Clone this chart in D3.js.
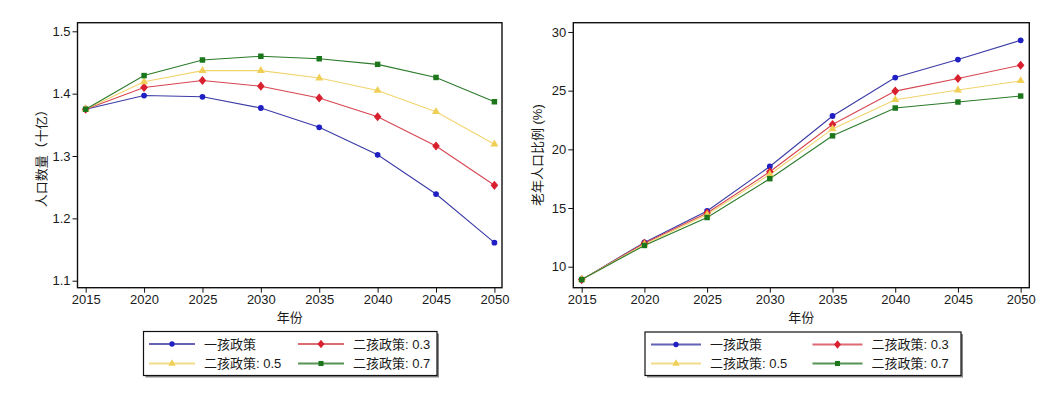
<!DOCTYPE html>
<html>
<head>
<meta charset="utf-8">
<script src="https://cdn.jsdelivr.net/npm/d3@7"></script>
<style>
  body { margin: 0; background: #fff; }
  text { font-family: "Liberation Sans", "Noto Sans CJK SC", sans-serif; fill: #1a1a1a; }
</style>
</head>
<body>
<svg id="chart" width="1064" height="398"></svg>
<script>
const years = [2015, 2020, 2025, 2030, 2035, 2040, 2045, 2050];
const seriesNames = ["一孩政策", "二孩政策: 0.3", "二孩政策: 0.5", "二孩政策: 0.7"];

// 人口数量（十亿）
const popOneChild = [1.375, 1.397, 1.395, 1.377, 1.346, 1.302, 1.239, 1.161];
const popTwo03 = [1.375, 1.410, 1.421, 1.412, 1.393, 1.363, 1.316, 1.253];
const popTwo05 = [1.375, 1.419, 1.437, 1.437, 1.425, 1.405, 1.371, 1.319];
const popTwo07 = [1.375, 1.429, 1.454, 1.460, 1.456, 1.447, 1.426, 1.387];

// 老年人口比例 (%)
const oldOneChild = [8.9, 12.07, 14.75, 18.54, 22.84, 26.12, 27.65, 29.29];
const oldTwo03 = [8.9, 12.0, 14.58, 18.09, 22.11, 24.96, 26.04, 27.17];
const oldTwo05 = [8.9, 11.9, 14.44, 17.86, 21.74, 24.23, 25.05, 25.84];
const oldTwo07 = [8.9, 11.81, 14.19, 17.5, 21.15, 23.52, 24.03, 24.54];

const popTicks = [1.1, 1.2, 1.3, 1.4, 1.5];
const oldTicks = [10, 15, 20, 25, 30];

// sx widens the stock d3 diamond a bit
const styles = [
  { line: "#3b3ba6", fill: "#1f1fc4", sym: d3.symbolCircle, size: 26, sx: 1 },
  { line: "#d64550", fill: "#d8202e", sym: d3.symbolDiamond, size: 24, sx: 1.45 },
  { line: "#f2d46e", fill: "#efcf55", sym: d3.symbolTriangle, size: 28, sx: 1 },
  { line: "#2b7a2b", fill: "#1c761c", sym: d3.symbolSquare, size: 30, sx: 1 }
];

const svg = d3.select("#chart");
svg.append("rect").attr("width", 1064).attr("height", 398).attr("fill", "#fff");

function drawPanel(opt) {
  const x = d3.scaleLinear().domain(opt.xDomain).range([opt.left, opt.right]);
  const y = d3.scaleLinear().domain(opt.yDomain).range([opt.bottom, opt.top]);
  const g = svg.append("g");

  const line = d3.line().x((d, i) => x(years[i])).y(d => y(d));
  opt.series.forEach((vals, k) => {
    g.append("path")
      .attr("d", line(vals))
      .attr("fill", "none")
      .attr("stroke", styles[k].line)
      .attr("stroke-width", 1.1);
  });
  opt.series.forEach((vals, k) => {
    g.selectAll(null)
      .data(vals)
      .enter()
      .append("path")
      .attr("transform", (d, i) => "translate(" + x(years[i]) + "," + y(d) + ") scale(" + styles[k].sx + ",1)")
      .attr("d", d3.symbol().type(styles[k].sym).size(styles[k].size))
      .attr("fill", styles[k].fill);
  });

  // frame
  g.append("rect")
    .attr("x", opt.left).attr("y", opt.top)
    .attr("width", opt.right - opt.left).attr("height", opt.bottom - opt.top)
    .attr("fill", "none").attr("stroke", "#111").attr("stroke-width", 1.4);

  const xAxis = g.append("g")
    .attr("transform", "translate(0," + opt.bottom + ")")
    .call(d3.axisBottom(x).tickValues(years).tickFormat(d3.format("d")).tickSize(5).tickPadding(2));
  const yAxis = g.append("g")
    .attr("transform", "translate(" + opt.left + ",0)")
    .call(d3.axisLeft(y).tickValues(opt.yTicks).tickFormat(opt.yFormat).tickSize(5).tickPadding(2));
  [xAxis, yAxis].forEach(a => {
    a.select(".domain").remove();
    a.selectAll("line").attr("stroke", "#111");
    a.selectAll("text").attr("font-size", 13).attr("fill", "#1a1a1a")
      .attr("font-family", "'Liberation Sans', sans-serif");
  });

  g.append("text")
    .attr("x", (opt.left + opt.right) / 2).attr("y", 322)
    .attr("text-anchor", "middle").attr("font-size", 13)
    .text("年份");

  g.append("text")
    .attr("transform", "translate(" + opt.labelX + "," + (opt.top + opt.bottom) / 2 + ") rotate(-90)")
    .attr("text-anchor", "middle").attr("dy", "0.35em").attr("font-size", 13)
    .text(opt.yLabel);

  // legend
  const lg = svg.append("g");
  const L = opt.legend;
  lg.append("rect")
    .attr("x", L.x + 2).attr("y", L.y + 2).attr("width", L.w).attr("height", L.h)
    .attr("fill", "#888");
  lg.append("rect")
    .attr("x", L.x).attr("y", L.y).attr("width", L.w).attr("height", L.h)
    .attr("fill", "#fff").attr("stroke", "#111").attr("stroke-width", 1.2);
  seriesNames.forEach((name, k) => {
    const col = k % 2, row = Math.floor(k / 2);
    const lx = L.colX[col], ly = L.rowY[row];
    lg.append("line")
      .attr("x1", lx).attr("x2", lx + L.lineW).attr("y1", ly).attr("y2", ly)
      .attr("stroke", styles[k].line).attr("stroke-width", 2).attr("opacity", 0.8);
    lg.append("path")
      .attr("transform", "translate(" + (lx + L.lineW / 2) + "," + ly + ") scale(" + styles[k].sx + ",1)")
      .attr("d", d3.symbol().type(styles[k].sym).size(styles[k].size - 4))
      .attr("fill", styles[k].fill);
    lg.append("text")
      .attr("x", lx + L.lineW + 9).attr("y", ly).attr("dy", "0.35em")
      .attr("font-size", 13)
      .text(name);
  });
}

drawPanel({
  left: 77.5, right: 502, top: 22.7, bottom: 287.7,
  xDomain: [2014.3, 2050.65],
  yDomain: [1.0888, 1.5138],
  yTicks: popTicks, yFormat: d3.format(".1f"),
  series: [popOneChild, popTwo03, popTwo05, popTwo07],
  yLabel: "人口数量（十亿）", labelX: 41,
  legend: { x: 143.5, y: 331.5, w: 293.5, h: 44, colX: [149, 298], rowY: [344, 363.5], lineW: 46 }
});

drawPanel({
  left: 573.3, right: 1029.3, top: 22.7, bottom: 287.7,
  xDomain: [2014.33, 2050.69],
  yDomain: [8.21, 30.79],
  yTicks: oldTicks, yFormat: d3.format("d"),
  series: [oldOneChild, oldTwo03, oldTwo05, oldTwo07],
  yLabel: "老年人口比例 (%)", labelX: 537,
  legend: { x: 645, y: 332, w: 316, h: 43.5, colX: [651, 812.5], rowY: [344.5, 363.5], lineW: 50 }
});
</script>
</body>
</html>
